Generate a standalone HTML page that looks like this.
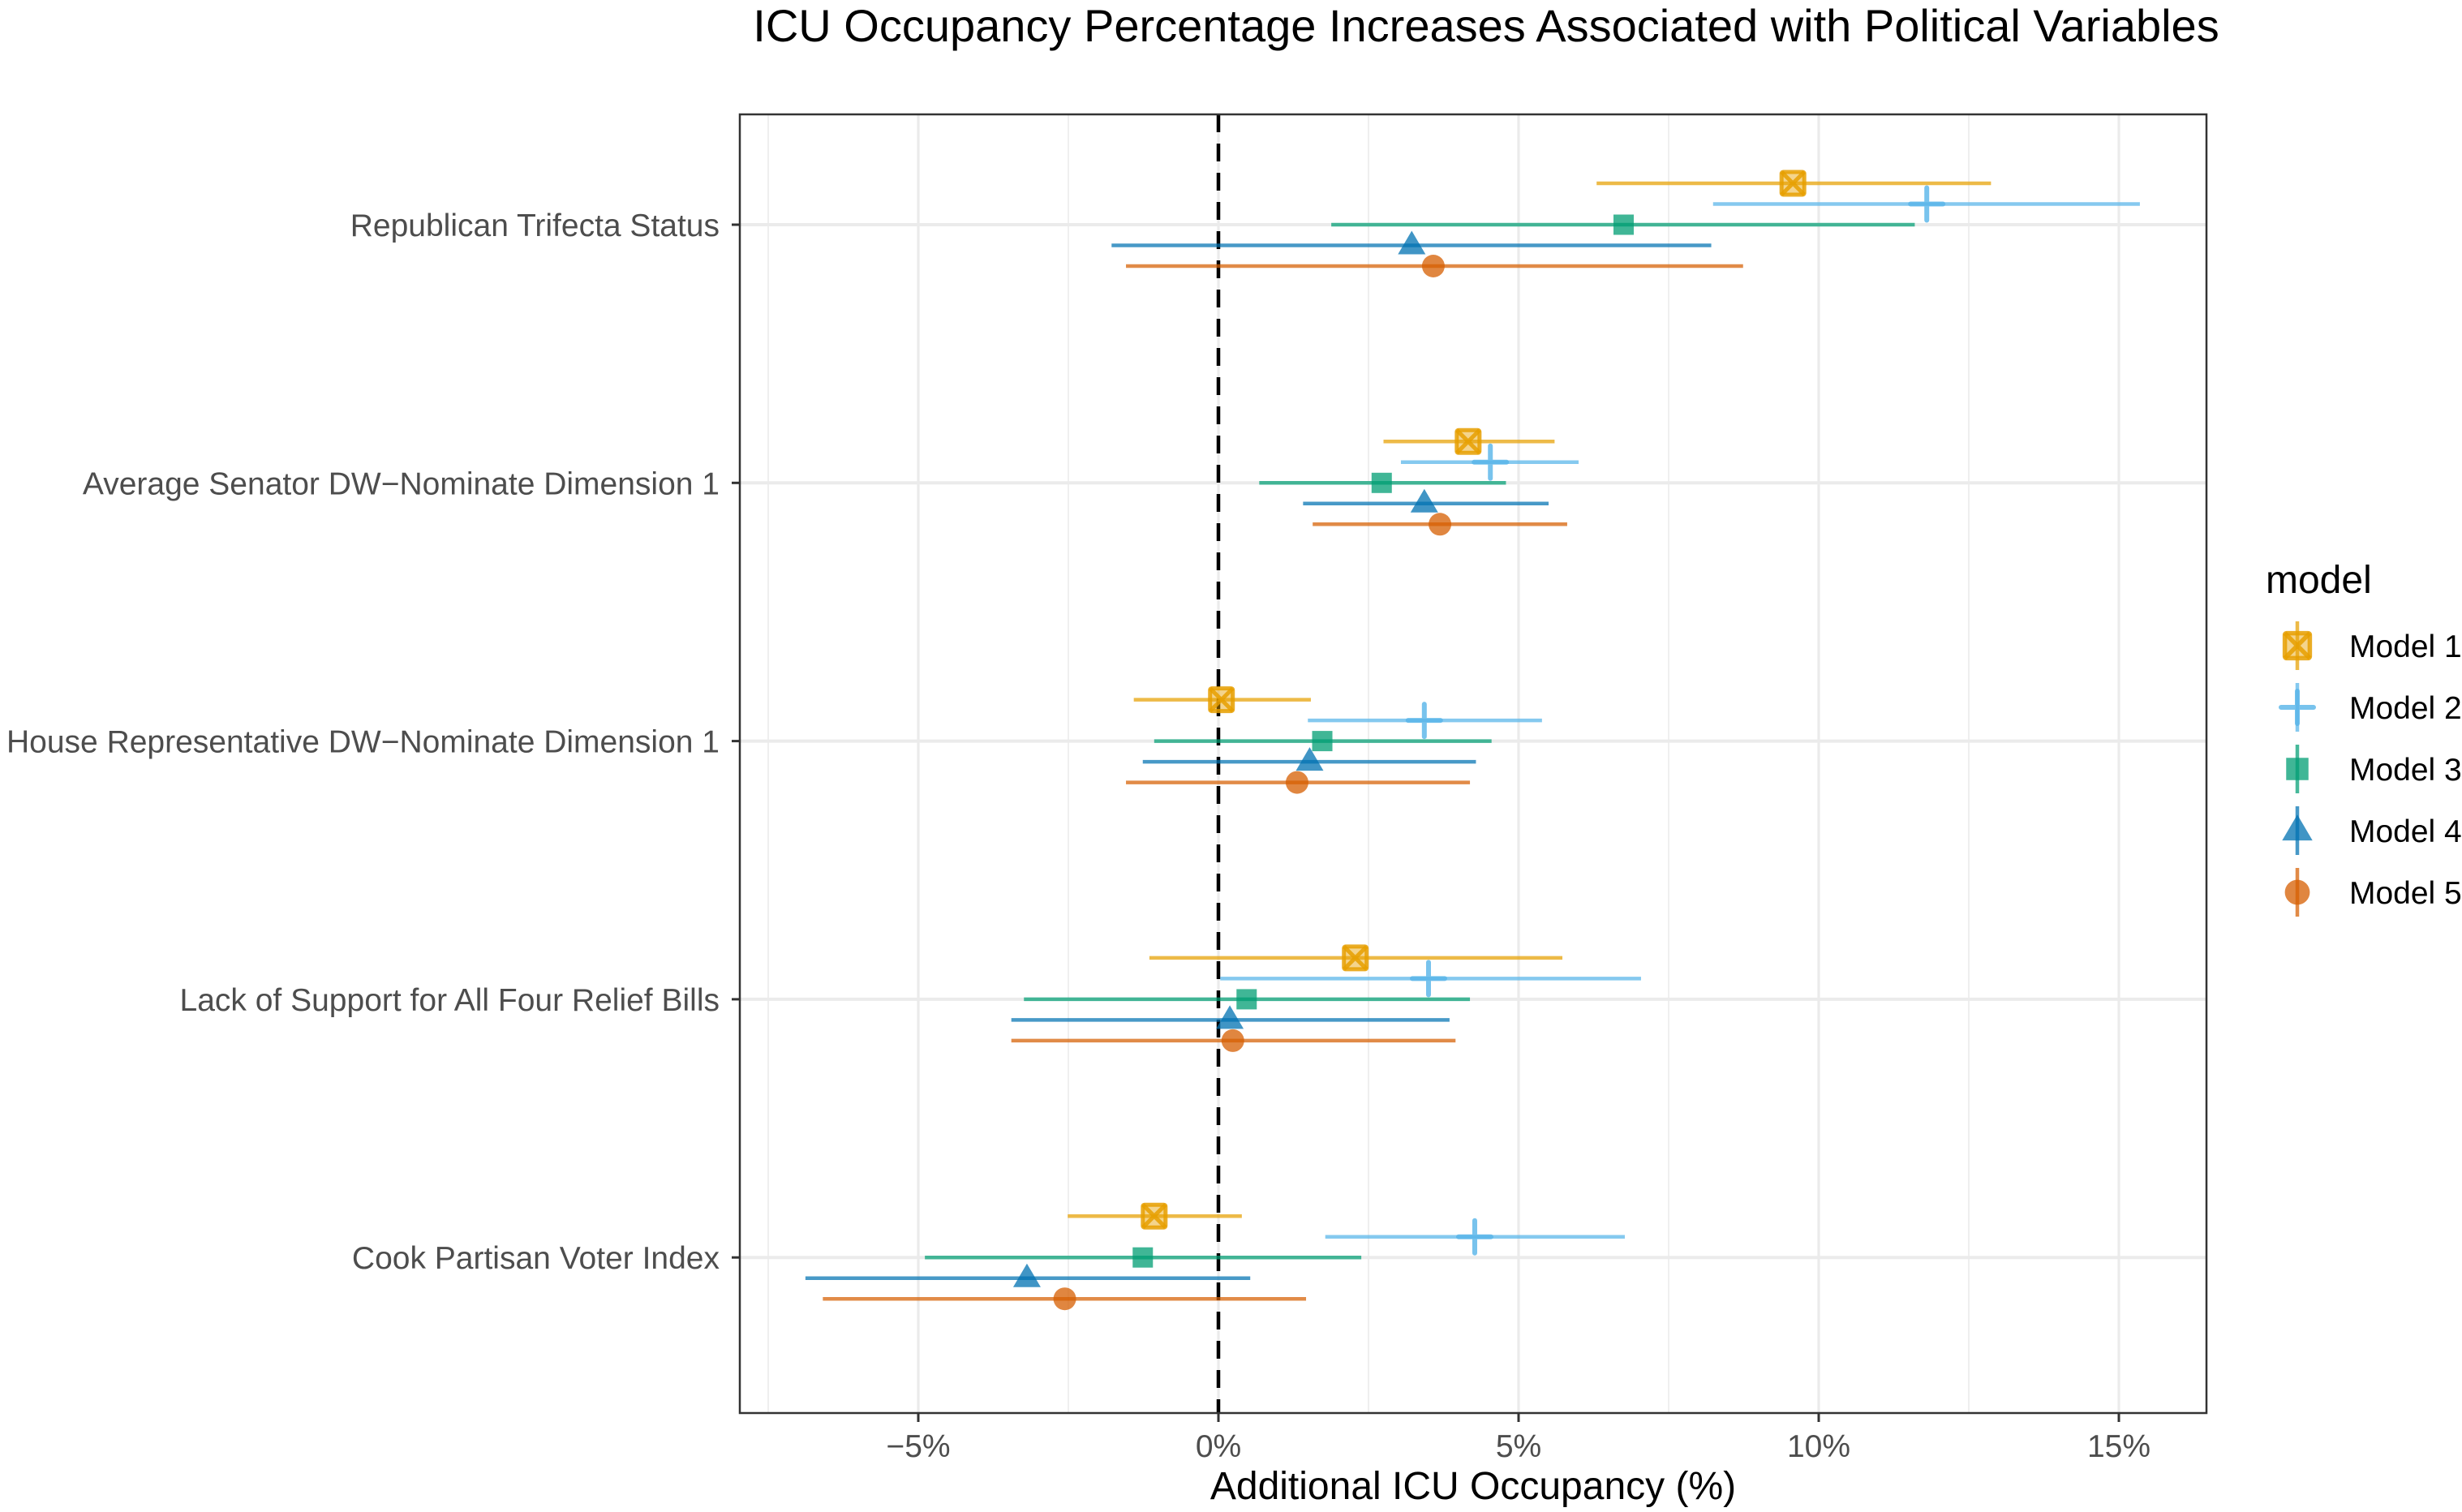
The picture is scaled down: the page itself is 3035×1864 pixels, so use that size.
<!DOCTYPE html>
<html><head><meta charset="utf-8"><style>
html,body{margin:0;padding:0;background:#fff;}
svg{display:block;font-family:"Liberation Sans",sans-serif;}
</style></head><body>
<svg id="chart" width="3035" height="1864" viewBox="0 0 3035 1864" xmlns="http://www.w3.org/2000/svg">
<text x="1832" y="51" font-size="56" text-anchor="middle" fill="#000">ICU Occupancy Percentage Increases Associated with Political Variables</text>
<g id="grid"></g><g id="marks"></g><g id="axes"></g><g id="legend"></g>
<text x="1816" y="1848" font-size="48" text-anchor="middle" fill="#000">Additional ICU Occupancy (%)</text>
</svg>
<script>
const categories = ["Republican Trifecta Status","Average Senator DW\u2212Nominate Dimension 1","House Representative DW\u2212Nominate Dimension 1","Lack of Support for All Four Relief Bills","Cook Partisan Voter Index"];
const models = ["Model 1","Model 2","Model 3","Model 4","Model 5"];
const estimates = [
 [9.57,11.8,6.75,3.22,3.58],
 [4.16,4.53,2.72,3.43,3.69],
 [0.05,3.43,1.73,1.52,1.31],
 [2.28,3.5,0.47,0.19,0.24],
 [-1.07,4.27,-1.26,-3.19,-2.56]];
const lower = [
 [6.3,8.24,1.88,-1.78,-1.54],
 [2.75,3.04,0.68,1.41,1.57],
 [-1.41,1.49,-1.07,-1.26,-1.54],
 [-1.15,0.03,-3.24,-3.45,-3.45],
 [-2.51,1.78,-4.89,-6.88,-6.59]];
const upper = [
 [12.87,15.35,11.6,8.21,8.74],
 [5.6,6.0,4.79,5.5,5.81],
 [1.54,5.39,4.55,4.29,4.19],
 [5.73,7.04,4.19,3.85,3.95],
 [0.39,6.77,2.38,0.53,1.46]];
const xTicks = [-5,0,5,10,15];
const xTickLabels = ["\u22125%","0%","5%","10%","15%"];
const minorTicks = [-7.5,-2.5,2.5,7.5,12.5];

const colors=["#E69F00","#56B4E9","#009E73","#0072B2","#D55E00"];
const L=912,R=2720,T=141,B=1742;
const x0=1502, pxPer=74;
const X=v=>x0+v*pxPer;
const rowY=i=>277+i*318.3;
const offY=j=>(j-2)*25.5;
const NS="http://www.w3.org/2000/svg";
function mk(tag,attrs,parent){const e=document.createElementNS(NS,tag);for(const k in attrs)e.setAttribute(k,attrs[k]);parent.appendChild(e);return e;}
const grid=document.getElementById('grid'),marks=document.getElementById('marks'),axes=document.getElementById('axes'),legend=document.getElementById('legend');

minorTicks.forEach(v=>{const l=mk('line',{x1:X(v),x2:X(v),y1:T,y2:B,stroke:'#ebebeb','stroke-width':1.6},grid);

});
xTicks.forEach(v=>{const l=mk('line',{x1:X(v),x2:X(v),y1:T,y2:B,stroke:'#ebebeb','stroke-width':3.2},grid);

});
categories.forEach((c,i)=>{const l=mk('line',{x1:L,x2:R,y1:rowY(i),y2:rowY(i),stroke:'#ebebeb','stroke-width':4},grid);

});
const zl=mk('line',{x1:X(0),x2:X(0),y1:T,y2:B,stroke:'#000','stroke-width':4.5,'stroke-dasharray':'22 14'},grid);



function marker(j,cx,cy,parent,scale){
 const c=colors[j],s=scale||1;let e;
 if(j===0){e=mk('g',{},parent);
  mk('rect',{x:cx-14*s,y:cy-14*s,width:28*s,height:28*s,fill:c,'fill-opacity':0.45,stroke:c,'stroke-width':5*s,'stroke-opacity':0.85,rx:2},e);
  mk('path',{d:`M${cx-14*s},${cy-14*s}L${cx+14*s},${cy+14*s}M${cx+14*s},${cy-14*s}L${cx-14*s},${cy+14*s}`,stroke:c,'stroke-width':5*s,'stroke-opacity':0.85},e);}
 else if(j===1){e=mk('path',{d:`M${cx-20*s},${cy}H${cx+20*s}M${cx},${cy-20*s}V${cy+20*s}`,stroke:c,'stroke-width':6*s,'stroke-linecap':'round','stroke-opacity':0.8,fill:'none'},parent);}
 else if(j===2){e=mk('rect',{x:cx-12.5*s,y:cy-12.5*s,width:25*s,height:25*s,fill:c,'fill-opacity':0.75},parent);}
 else if(j===3){e=mk('path',{d:`M${cx},${cy-18*s}L${cx+17*s},${cy+11*s}L${cx-17*s},${cy+11*s}Z`,fill:c,'fill-opacity':0.75},parent);}
 else {e=mk('circle',{cx:cx,cy:cy,r:14*s,fill:c,'fill-opacity':0.75},parent);}
 return e;
}

categories.forEach((c,i)=>{
 models.forEach((m,j)=>{
  const y=rowY(i)+offY(j);
  const ln=mk('line',{x1:X(lower[i][j]),x2:X(upper[i][j]),y1:y,y2:y,stroke:colors[j],'stroke-width':4.5,'stroke-opacity':0.72},marks);
  
  
  const mkEl=marker(j,X(estimates[i][j]),y,marks);
  
  
 });
 const t=mk('text',{x:887,y:rowY(i)+14,'font-size':39,'text-anchor':'end',fill:'#4d4d4d'},axes);
 t.textContent=c;
 
 
 const tk=mk('line',{x1:902,x2:L,y1:rowY(i),y2:rowY(i),stroke:'#333','stroke-width':3},axes);
 
 
});
xTicks.forEach((v,k)=>{
 const tk=mk('line',{x1:X(v),x2:X(v),y1:B,y2:B+11,stroke:'#333','stroke-width':3},axes);
 
 
 const t=mk('text',{x:X(v),y:B+54,'font-size':39,'text-anchor':'middle',fill:'#4d4d4d'},axes);
 t.textContent=xTickLabels[k];
 
 
});
const panel=mk('rect',{x:L,y:T,width:R-L,height:B-T,fill:'none',stroke:'#333','stroke-width':2.5},axes);



const lt=mk('text',{x:2793,y:731,'font-size':48,fill:'#000'},legend);
lt.textContent='model';


models.forEach((m,j)=>{
 const y=796+j*76;
 const g=mk('g',{},legend);
 
 
 mk('line',{x1:2832,x2:2832,y1:y-30,y2:y+30,stroke:colors[j],'stroke-width':4.5,'stroke-opacity':0.72},g);
 marker(j,2832,y,g,j===1?1:1.1);
 const t=mk('text',{x:2896,y:y+14,'font-size':39,fill:'#000'},g);
 t.textContent=m;
});
</script>
</body></html>
